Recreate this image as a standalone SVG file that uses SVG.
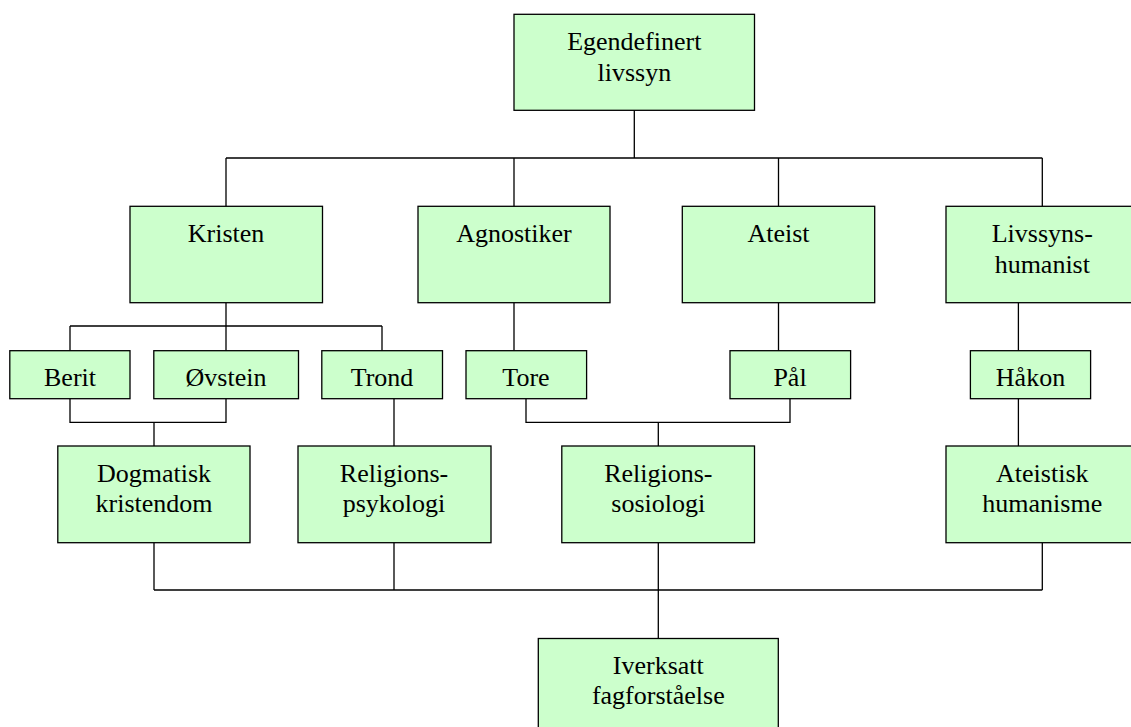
<svg xmlns="http://www.w3.org/2000/svg" width="1131" height="727" viewBox="0 0 1131 727">
<style>
.box{fill:#CCFFCC;stroke:#000;stroke-width:1.3}
.ln{fill:none;stroke:#000;stroke-width:1.3}
text{font-family:"Liberation Serif","Times New Roman",serif;font-size:26px;fill:#000;text-anchor:middle}
</style>
<rect width="1131" height="727" fill="#fff"/>
<g id="connectors" class="ln">
<path d="M634.3,110.3V158M226,158H1042.3M226,158V206.3M514,158V206.3M778.5,158V206.3M1042.3,158V206.3"/>
<path d="M226,302.7V326M70,326H382M70,326V350.7M226,326V350.7M382,326V350.7"/>
<path d="M514,302.7V350.7M778.5,302.7V350.7M1018.4,302.7V350.7"/>
<path d="M70,398.7V422.3H226V398.7M154,422.3V446"/>
<path d="M394,398.7V446"/>
<path d="M526,398.7V422.3H790V398.7M658.3,422.3V446"/>
<path d="M1018.4,398.7V446"/>
<path d="M154,542.7V590M394,542.7V590M658.3,542.7V638.5M1042.3,542.7V590M154,590H1042.3"/>
</g>
<g id="n-egendefinert"><rect class="box" x="514" y="14.3" width="240.5" height="96"/><text x="634.3" y="50">Egendefinert</text><text x="634.3" y="80.7">livssyn</text></g>
<g id="n-kristen"><rect class="box" x="130" y="206.3" width="192.5" height="96.4"/><text x="226" y="242.3">Kristen</text></g>
<g id="n-agnostiker"><rect class="box" x="418" y="206.3" width="192" height="96.4"/><text x="514" y="242.3">Agnostiker</text></g>
<g id="n-ateist"><rect class="box" x="682.3" y="206.3" width="192.4" height="96.4"/><text x="778.5" y="242.3">Ateist</text></g>
<g id="n-livssyn"><rect class="box" x="946" y="206.3" width="192.6" height="96.4"/><text x="1042.3" y="242.3">Livssyns-</text><text x="1042.3" y="273">humanist</text></g>
<g id="n-berit"><rect class="box" x="9.8" y="350.7" width="120.2" height="48"/><text x="70" y="386">Berit</text></g>
<g id="n-ovstein"><rect class="box" x="153.8" y="350.7" width="144.7" height="48"/><text x="226" y="386">Øvstein</text></g>
<g id="n-trond"><rect class="box" x="321.8" y="350.7" width="120.7" height="48"/><text x="382" y="386">Trond</text></g>
<g id="n-tore"><rect class="box" x="466" y="350.7" width="120.6" height="48"/><text x="526" y="386">Tore</text></g>
<g id="n-pal"><rect class="box" x="730" y="350.7" width="120.6" height="48"/><text x="790" y="386">Pål</text></g>
<g id="n-hakon"><rect class="box" x="970.4" y="350.7" width="120.2" height="48"/><text x="1030.5" y="386">Håkon</text></g>
<g id="n-dogmatisk"><rect class="box" x="57.8" y="446" width="192.2" height="96.7"/><text x="154" y="481.7">Dogmatisk</text><text x="154" y="511.7">kristendom</text></g>
<g id="n-relpsyk"><rect class="box" x="298" y="446" width="193" height="96.7"/><text x="394" y="481.7">Religions-</text><text x="394" y="511.7">psykologi</text></g>
<g id="n-relsos"><rect class="box" x="561.8" y="446" width="192.7" height="96.7"/><text x="658.3" y="481.7">Religions-</text><text x="658.3" y="511.7">sosiologi</text></g>
<g id="n-ateistisk"><rect class="box" x="946" y="446" width="192.6" height="96.7"/><text x="1042.3" y="481.7">Ateistisk</text><text x="1042.3" y="511.7">humanisme</text></g>
<g id="n-iverksatt"><rect class="box" x="538.3" y="638.5" width="240" height="96"/><text x="658.3" y="674.3">Iverksatt</text><text x="658.3" y="704.3">fagforståelse</text></g>
</svg>
